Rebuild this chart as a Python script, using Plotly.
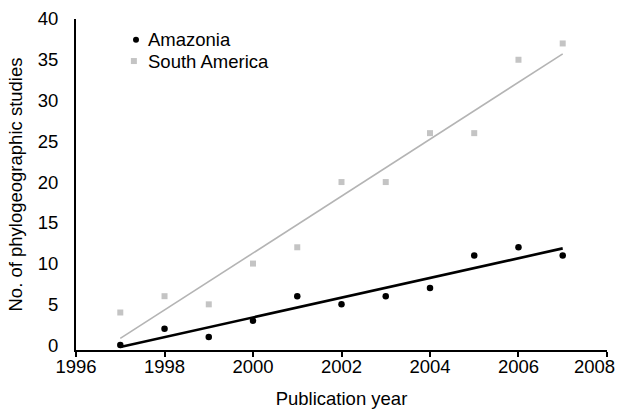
import numpy as np
import plotly.graph_objects as go

years = [1997, 1998, 1999, 2000, 2001, 2002, 2003, 2004, 2005, 2006, 2007]
amazonia = [0, 2, 1, 3, 6, 5, 6, 7, 11, 12, 11]
south_america = [4, 6, 5, 10, 12, 20, 20, 26, 26, 35, 37]
x_ticks = [1996, 1998, 2000, 2002, 2004, 2006, 2008]
x_tick_labels = ["1996", "1998", "2000", "2002", "2004", "2006", "2008"]
y_ticks = [0, 5, 10, 15, 20, 25, 30, 35, 40]

FONT = "Liberation Sans, Arial, Helvetica, sans-serif"
FS = 18.5
GRAY_PT = "#c4c4c4"
GRAY_LN = "#b4b4b4"

fig = go.Figure()

xs = np.array(years, dtype=float)
line_x = np.array([min(years), max(years)], dtype=float)

sa_fit = np.polyfit(xs, np.array(south_america, dtype=float), 1)
am_fit = np.polyfit(xs, np.array(amazonia, dtype=float), 1)

fig.add_trace(go.Scatter(x=line_x, y=np.polyval(sa_fit, line_x), mode="lines",
                         line=dict(color=GRAY_LN, width=1.6), showlegend=False,
                         hoverinfo="skip"))
fig.add_trace(go.Scatter(x=years, y=south_america, mode="markers", name="South America",
                         marker=dict(symbol="square", size=6, color=GRAY_PT),
                         showlegend=False))
fig.add_trace(go.Scatter(x=line_x, y=np.polyval(am_fit, line_x), mode="lines",
                         line=dict(color="black", width=2.6), showlegend=False,
                         hoverinfo="skip"))
fig.add_trace(go.Scatter(x=years, y=amazonia, mode="markers", name="Amazonia",
                         marker=dict(symbol="circle", size=6.5, color="black"),
                         showlegend=False))

# custom legend (markers + text in paper coordinates)
legend_items = [("Amazonia", "circle", "black", 0.937, 0.113),
                ("South America", "rect", GRAY_PT, 0.873, 0.109)]
for label, shp, col, yp, xp in legend_items:
    fig.add_shape(type=shp, xref="paper", yref="paper", xsizemode="pixel", ysizemode="pixel",
                  xanchor=xp, yanchor=yp, x0=-3, x1=3, y0=-3, y1=3,
                  fillcolor=col, line=dict(width=0))
    fig.add_annotation(x=0.131, y=yp, xref="paper", yref="paper", text=label,
                       showarrow=False, xanchor="left", yanchor="middle",
                       font=dict(family=FONT, size=FS, color="black"))

# last x tick label, nudged left so it stays inside the page (as in the reference)
fig.add_annotation(x=x_ticks[-1], y=0, xref="x", yref="paper", text=x_tick_labels[-1],
                   showarrow=False, xanchor="right", yanchor="top", xshift=10, yshift=-4,
                   font=dict(family=FONT, size=FS, color="black"))

fig.update_layout(
    width=621, height=409,
    margin=dict(l=76, r=14, t=19, b=59),
    paper_bgcolor="white", plot_bgcolor="white",
    font=dict(family=FONT, size=FS, color="black"),
    showlegend=False,
)
fig.update_xaxes(range=[1995.999, 2008.001], tickvals=x_ticks,
                 ticktext=x_tick_labels[:-1] + [""],
                 ticks="outside", ticklen=5, ticklabelstandoff=-6,
                 tickwidth=1.5, tickcolor="black", showline=True, linecolor="black",
                 linewidth=2, showgrid=False, zeroline=False, automargin=False,
                 title=dict(text="Publication year", standoff=18,
                            font=dict(family=FONT, size=FS)),
                 tickfont=dict(family=FONT, size=FS))
fig.update_yaxes(range=[-0.6, 40], tickvals=y_ticks, ticks="", showline=True,
                 linecolor="black", linewidth=2, showgrid=False, zeroline=False,
                 automargin=False, ticklabelstandoff=12,
                 title=dict(text="No. of phylogeographic studies", standoff=10,
                            font=dict(family=FONT, size=FS)),
                 tickfont=dict(family=FONT, size=FS))

fig.write_html("out.html", config={"displayModeBar": False},
               post_script="document.body.style.margin='0';")
